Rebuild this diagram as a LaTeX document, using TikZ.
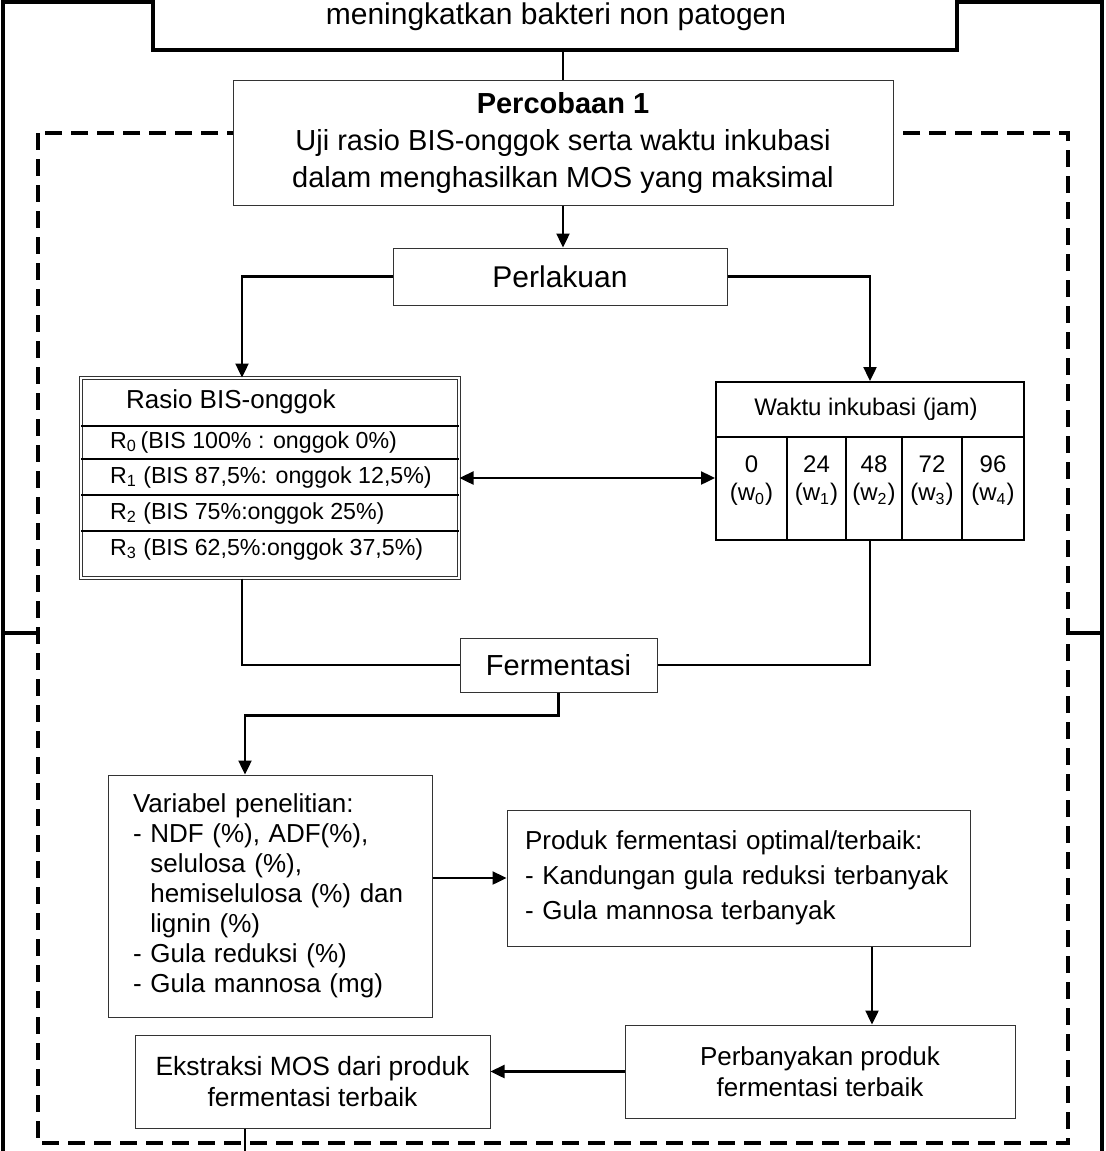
\documentclass[tikz,border=0pt]{standalone}
\usepackage{fontspec}
\setmainfont{Liberation Sans}
\usetikzlibrary{arrows.meta,positioning}

\begin{document}
\begin{tikzpicture}[x=0.5pt, y=-0.5pt, >={Triangle[length=7pt,width=6.5pt]},
  box/.style={draw=black!80, line width=0.5pt, fill=white, inner sep=0pt, align=center},
  link/.style={line width=0.7pt},
  flow/.style={->, line width=1.2pt}]
  \useasboundingbox (0,0) rectangle (1105,1151);
  \clip (0,0) rectangle (1105,1151);

  % outer frame and dashed frame
  \draw[line width=2pt] (153,2) -- (3,2) -- (3,1160);
  \draw[line width=2pt] (957,2) -- (1102,2) -- (1102,1160);
  \draw[line width=2pt] (3,633) -- (38,633);
  \draw[line width=2pt] (1068,633) -- (1102,633);
  \draw[line width=2pt, dash pattern=on 8.5pt off 4.5pt] (38,133) rectangle (1068,1143);

  \node[box, draw=black, line width=2pt, minimum width=402pt, minimum height=55pt] (topbox) at (555,-5) {};
  \node[font=\fontsize{15}{18}\selectfont] (toptext) at (556,17) {meningkatkan bakteri non patogen};

  \node[box, minimum width=330pt, minimum height=62.5pt, font=\fontsize{14.5}{18.5}\selectfont] (percobaan) at (563,142.5)
    {\textbf{Percobaan 1}\\Uji rasio BIS-onggok serta waktu inkubasi\\dalam menghasilkan MOS yang maksimal};
  \node[box, minimum width=167pt, minimum height=28.5pt, font=\fontsize{15}{17}\selectfont] (perlakuan) at (560,276.5) {Perlakuan};

  % rasio table
  \node[box, double, double distance=0.8pt, minimum width=189pt, minimum height=100pt] (rasio) at (270,478) {};
  \foreach \y in {426,459,495,531}
    \draw[line width=0.7pt] (81,\y) -- (459,\y);
  \node[anchor=west, font=\fontsize{13}{15}\selectfont] (rasiohead) at (119,402) {Rasio BIS-onggok};
  \foreach \i/\t/\y in {0/{\,(BIS 100\% : onggok 0\%)}/442, 1/{ (BIS 87,5\%: onggok 12,5\%)}/477,
                        2/{ (BIS 75\%:onggok 25\%)}/513, 3/{ (BIS 62,5\%:onggok 37,5\%)}/549}
    \node[anchor=west, font=\fontsize{11.6}{14}\selectfont] (r\i) at (103,\y) {R\textsubscript{\i}\t};

  % waktu table
  \node[box, draw=black, line width=1pt, minimum width=154pt, minimum height=79pt] (waktu) at (870,461) {};
  \draw[line width=1pt] (716,437) -- (1024,437);
  \foreach \x in {787,846,902,962}
    \draw[line width=0.7pt] (\x,437) -- (\x,540);
  \node[font=\fontsize{12}{14}\selectfont] (waktuhead) at (866,409) {Waktu inkubasi (jam)};
  \foreach \x/\h/\i in {751.5/0/0, 816.5/24/1, 874/48/2, 932/72/3, 993/96/4}
    \node[align=center, font=\fontsize{12}{14}\selectfont] (w\i) at (\x,481) {\h\\(w\textsubscript{\i})};

  \node[box, minimum width=98.5pt, minimum height=27pt, font=\fontsize{14.5}{17}\selectfont] (fermentasi) at (558.5,665) {Fermentasi};

  \node[box, minimum width=162pt, minimum height=121pt, text width=137pt, align=left, font=\fontsize{13}{15}\selectfont] (variabel) at (270,896)
    {Variabel penelitian:\\- NDF (\%), ADF(\%),\\\phantom{- }selulosa (\%),\\\phantom{- }hemiselulosa (\%) dan\\\phantom{- }lignin (\%)\\- Gula reduksi (\%)\\- Gula mannosa (mg)};
  \node[box, minimum width=231.5pt, minimum height=68pt, text width=213.5pt, align=left, font=\fontsize{13}{17.5}\selectfont] (produk) at (738.5,878)
    {Produk fermentasi optimal/terbaik:\\- Kandungan gula reduksi terbanyak\\- Gula mannosa terbanyak};
  \node[box, minimum width=195pt, minimum height=46.5pt, font=\fontsize{13}{15.5}\selectfont] (perbanyakan) at (820,1071.5)
    {Perbanyakan produk\\fermentasi terbaik};
  \node[box, minimum width=177.5pt, minimum height=46.5pt, font=\fontsize{13.2}{15.5}\selectfont] (ekstraksi) at (312.5,1081.5)
    {Ekstraksi MOS dari produk\\fermentasi terbaik};

  % connectors
  \draw[link] (percobaan.north |- topbox.south) -- (percobaan.north);
  \draw[flow] (percobaan.south) -- (percobaan.south |- perlakuan.north);
  \draw[flow] (perlakuan.west) -| ([xshift=-14pt]rasio.north);
  \draw[flow] (perlakuan.east) -| (waktu.north);
  \draw[flow, <->] (rasio.east) -- (rasio.east -| waktu.west);
  \draw[link] ([xshift=-14pt]rasio.south) |- (fermentasi.west);
  \draw[link] (waktu.south) |- (fermentasi.east);
  \draw[flow] (fermentasi.south) -- ++(0,23) -| ([xshift=-12.5pt]variabel.north);
  \draw[flow] (variabel.east |- produk.west) -- (produk.west);
  \coordinate (turun) at ([xshift=66.75pt]produk.south);
  \draw[flow] (turun) -- (turun |- perbanyakan.north);
  \draw[flow] (perbanyakan.west) -- (perbanyakan.west -| ekstraksi.east);
  \coordinate (keluar) at (245,1160);
  \draw[link] (ekstraksi.south -| keluar) -- (keluar);
\end{tikzpicture}
\end{document}
